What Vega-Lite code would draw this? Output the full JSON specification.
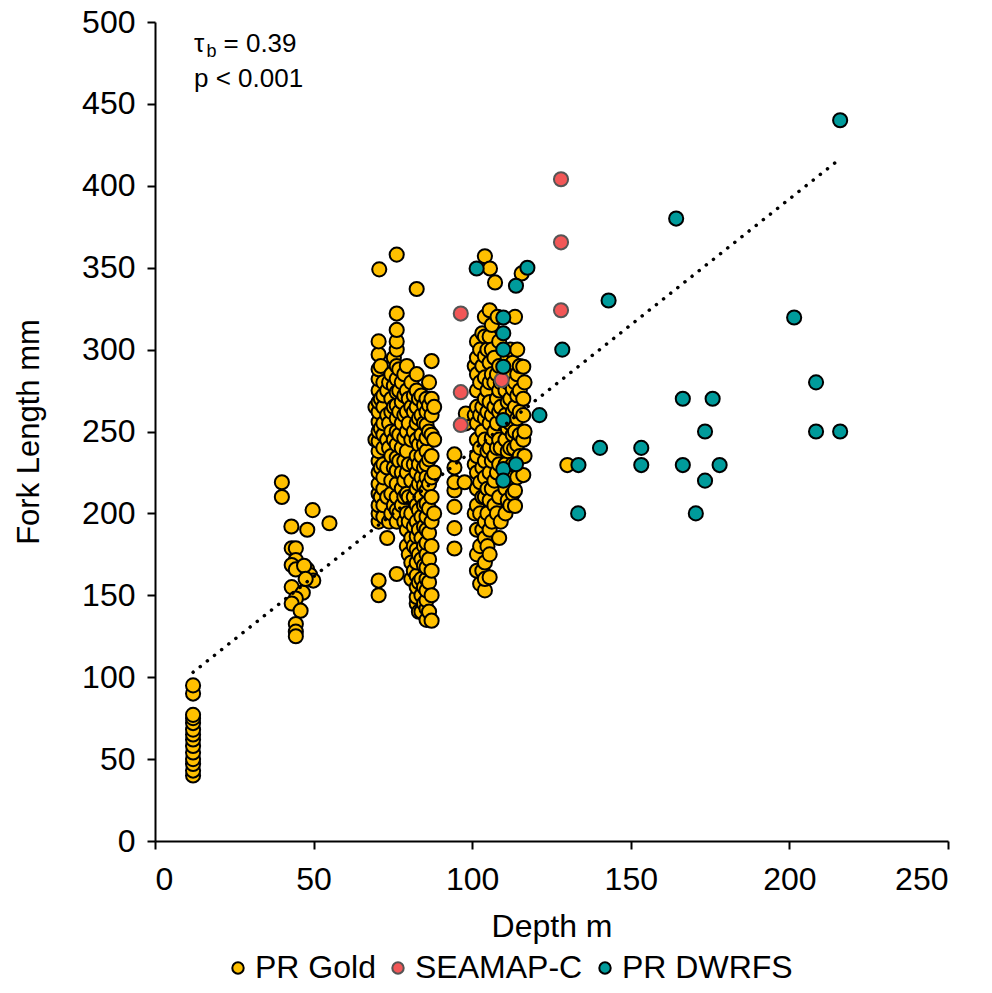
{
  "$schema": "https://vega.github.io/schema/vega-lite/v6.json",
  "autosize": "none",
  "width": 793,
  "height": 819,
  "padding": {"left": 155, "top": 22, "right": 44, "bottom": 152},
  "background": "white",
  "config": {
    "font": "Liberation Sans",
    "view": {"stroke": null},
    "axis": {"grid": false, "domainColor": "black", "domainWidth": 2, "tickColor": "black", "tickWidth": 2, "labelColor": "black", "titleColor": "black", "labelFont": "Liberation Sans", "titleFont": "Liberation Sans", "titleFontWeight": "normal"}
  },
  "datasets": {
    "pts": [
      {"s":"PR Gold","d":12,"f":40},{"s":"PR Gold","d":12,"f":43},{"s":"PR Gold","d":12,"f":47},{"s":"PR Gold","d":12,"f":50},{"s":"PR Gold","d":12,"f":54},{"s":"PR Gold","d":12,"f":58},{"s":"PR Gold","d":12,"f":62},{"s":"PR Gold","d":12,"f":65},{"s":"PR Gold","d":12,"f":68},{"s":"PR Gold","d":12,"f":72},{"s":"PR Gold","d":12,"f":75},{"s":"PR Gold","d":12,"f":77},{"s":"PR Gold","d":12,"f":90},{"s":"PR Gold","d":12,"f":95},
      {"s":"PR Gold","d":40,"f":210},{"s":"PR Gold","d":40,"f":219},
      {"s":"PR Gold","d":43,"f":192},{"s":"PR Gold","d":48,"f":190},{"s":"PR Gold","d":49.7,"f":202},{"s":"PR Gold","d":55,"f":194},{"s":"PR Gold","d":43.1,"f":178.7},{"s":"PR Gold","d":44.4,"f":178.7},{"s":"PR Gold","d":44.4,"f":171.5},{"s":"PR Gold","d":43.1,"f":168.5},{"s":"PR Gold","d":44.4,"f":165.8},{"s":"PR Gold","d":48,"f":165.8},{"s":"PR Gold","d":48.9,"f":162.4},{"s":"PR Gold","d":49.9,"f":159},{"s":"PR Gold","d":43.1,"f":155},{"s":"PR Gold","d":46.6,"f":151.6},{"s":"PR Gold","d":44.4,"f":148},{"s":"PR Gold","d":43.1,"f":145},{"s":"PR Gold","d":45.9,"f":140.6},{"s":"PR Gold","d":44.4,"f":132.5},{"s":"PR Gold","d":44.4,"f":127.8},{"s":"PR Gold","d":44.4,"f":125},{"s":"PR Gold","d":47,"f":168},{"s":"PR Gold","d":47.5,"f":160},
      {"s":"PR Gold","d":69.5,"f":245},{"s":"PR Gold","d":69.5,"f":265},
      {"s":"PR Gold","d":70.5,"f":150},{"s":"PR Gold","d":70.5,"f":159},{"s":"PR Gold","d":70.5,"f":195},{"s":"PR Gold","d":70.5,"f":200},{"s":"PR Gold","d":70.5,"f":205},{"s":"PR Gold","d":70.5,"f":212},{"s":"PR Gold","d":70.5,"f":218},{"s":"PR Gold","d":70.5,"f":225},{"s":"PR Gold","d":70.5,"f":232},{"s":"PR Gold","d":70.5,"f":238},{"s":"PR Gold","d":70.5,"f":244},{"s":"PR Gold","d":70.5,"f":250},{"s":"PR Gold","d":70.5,"f":256},{"s":"PR Gold","d":70.5,"f":262},{"s":"PR Gold","d":70.5,"f":268},{"s":"PR Gold","d":70.5,"f":275},{"s":"PR Gold","d":70.5,"f":282},{"s":"PR Gold","d":70.5,"f":288},{"s":"PR Gold","d":70.5,"f":297},{"s":"PR Gold","d":70.5,"f":305},{"s":"PR Gold","d":70.7,"f":349},
      {"s":"PR Gold","d":71.2,"f":210},{"s":"PR Gold","d":71.2,"f":228},{"s":"PR Gold","d":71.2,"f":252},{"s":"PR Gold","d":71.2,"f":270},{"s":"PR Gold","d":71.2,"f":290},
      {"s":"PR Gold","d":72,"f":198},{"s":"PR Gold","d":72,"f":205},{"s":"PR Gold","d":72,"f":215},{"s":"PR Gold","d":72,"f":222},{"s":"PR Gold","d":72,"f":230},{"s":"PR Gold","d":72,"f":240},{"s":"PR Gold","d":72,"f":248},{"s":"PR Gold","d":72,"f":255},{"s":"PR Gold","d":72,"f":265},{"s":"PR Gold","d":72,"f":272},{"s":"PR Gold","d":72,"f":280},
      {"s":"PR Gold","d":73.2,"f":185},{"s":"PR Gold","d":73.2,"f":210},{"s":"PR Gold","d":73.2,"f":228},{"s":"PR Gold","d":73.2,"f":245},{"s":"PR Gold","d":73.2,"f":260},{"s":"PR Gold","d":73.2,"f":275},
      {"s":"PR Gold","d":73.8,"f":195},{"s":"PR Gold","d":73.8,"f":240},{"s":"PR Gold","d":73.8,"f":255},{"s":"PR Gold","d":73.8,"f":280},
      {"s":"PR Gold","d":74.5,"f":200},{"s":"PR Gold","d":74.5,"f":212},{"s":"PR Gold","d":74.5,"f":220},{"s":"PR Gold","d":74.5,"f":235},{"s":"PR Gold","d":74.5,"f":250},{"s":"PR Gold","d":74.5,"f":262},{"s":"PR Gold","d":74.5,"f":270},{"s":"PR Gold","d":74.5,"f":285},
      {"s":"PR Gold","d":75.3,"f":205},{"s":"PR Gold","d":75.3,"f":228},{"s":"PR Gold","d":75.3,"f":245},{"s":"PR Gold","d":75.3,"f":265},{"s":"PR Gold","d":75.3,"f":278},{"s":"PR Gold","d":75.3,"f":295},
      {"s":"PR Gold","d":76.2,"f":163},{"s":"PR Gold","d":76.2,"f":195},{"s":"PR Gold","d":76.2,"f":202},{"s":"PR Gold","d":76.2,"f":210},{"s":"PR Gold","d":76.2,"f":218},{"s":"PR Gold","d":76.2,"f":226},{"s":"PR Gold","d":76.2,"f":234},{"s":"PR Gold","d":76.2,"f":242},{"s":"PR Gold","d":76.2,"f":250},{"s":"PR Gold","d":76.2,"f":258},{"s":"PR Gold","d":76.2,"f":266},{"s":"PR Gold","d":76.2,"f":274},{"s":"PR Gold","d":76.2,"f":282},{"s":"PR Gold","d":76.2,"f":290},{"s":"PR Gold","d":76.2,"f":300},{"s":"PR Gold","d":76.2,"f":305},{"s":"PR Gold","d":76.2,"f":312},{"s":"PR Gold","d":76.2,"f":322},{"s":"PR Gold","d":76.2,"f":358},
      {"s":"PR Gold","d":77,"f":200},{"s":"PR Gold","d":77,"f":232},{"s":"PR Gold","d":77,"f":248},{"s":"PR Gold","d":77,"f":262},{"s":"PR Gold","d":77,"f":275},{"s":"PR Gold","d":77,"f":288},
      {"s":"PR Gold","d":77.8,"f":205},{"s":"PR Gold","d":77.8,"f":215},{"s":"PR Gold","d":77.8,"f":225},{"s":"PR Gold","d":77.8,"f":240},{"s":"PR Gold","d":77.8,"f":255},{"s":"PR Gold","d":77.8,"f":268},{"s":"PR Gold","d":77.8,"f":280},
      {"s":"PR Gold","d":78.6,"f":195},{"s":"PR Gold","d":78.6,"f":210},{"s":"PR Gold","d":78.6,"f":220},{"s":"PR Gold","d":78.6,"f":232},{"s":"PR Gold","d":78.6,"f":246},{"s":"PR Gold","d":78.6,"f":260},{"s":"PR Gold","d":78.6,"f":272},{"s":"PR Gold","d":78.6,"f":285},
      {"s":"PR Gold","d":79.4,"f":180},{"s":"PR Gold","d":79.4,"f":190},{"s":"PR Gold","d":79.4,"f":200},{"s":"PR Gold","d":79.4,"f":212},{"s":"PR Gold","d":79.4,"f":225},{"s":"PR Gold","d":79.4,"f":238},{"s":"PR Gold","d":79.4,"f":250},{"s":"PR Gold","d":79.4,"f":262},{"s":"PR Gold","d":79.4,"f":275},{"s":"PR Gold","d":79.4,"f":290},
      {"s":"PR Gold","d":80,"f":175},{"s":"PR Gold","d":80,"f":195},{"s":"PR Gold","d":80,"f":210},{"s":"PR Gold","d":80,"f":230},{"s":"PR Gold","d":80,"f":255},{"s":"PR Gold","d":80,"f":270},
      {"s":"PR Gold","d":80.8,"f":160},{"s":"PR Gold","d":80.8,"f":170},{"s":"PR Gold","d":80.8,"f":185},{"s":"PR Gold","d":80.8,"f":200},{"s":"PR Gold","d":80.8,"f":220},{"s":"PR Gold","d":80.8,"f":245},{"s":"PR Gold","d":80.8,"f":265},{"s":"PR Gold","d":80.8,"f":280},
      {"s":"PR Gold","d":81.6,"f":165},{"s":"PR Gold","d":81.6,"f":180},{"s":"PR Gold","d":81.6,"f":192},{"s":"PR Gold","d":81.6,"f":210},{"s":"PR Gold","d":81.6,"f":230},{"s":"PR Gold","d":81.6,"f":250},{"s":"PR Gold","d":81.6,"f":262},{"s":"PR Gold","d":81.6,"f":272},
      {"s":"PR Gold","d":82.5,"f":145},{"s":"PR Gold","d":82.5,"f":149},{"s":"PR Gold","d":82.5,"f":155},{"s":"PR Gold","d":82.5,"f":162},{"s":"PR Gold","d":82.5,"f":170},{"s":"PR Gold","d":82.5,"f":178},{"s":"PR Gold","d":82.5,"f":186},{"s":"PR Gold","d":82.5,"f":195},{"s":"PR Gold","d":82.5,"f":205},{"s":"PR Gold","d":82.5,"f":215},{"s":"PR Gold","d":82.5,"f":225},{"s":"PR Gold","d":82.5,"f":235},{"s":"PR Gold","d":82.5,"f":245},{"s":"PR Gold","d":82.5,"f":255},{"s":"PR Gold","d":82.5,"f":265},{"s":"PR Gold","d":82.5,"f":275},{"s":"PR Gold","d":82.5,"f":285},{"s":"PR Gold","d":82.5,"f":337},
      {"s":"PR Gold","d":83.2,"f":140},{"s":"PR Gold","d":83.2,"f":158},{"s":"PR Gold","d":83.2,"f":175},{"s":"PR Gold","d":83.2,"f":190},{"s":"PR Gold","d":83.2,"f":202},{"s":"PR Gold","d":83.2,"f":218},{"s":"PR Gold","d":83.2,"f":230},{"s":"PR Gold","d":83.2,"f":242},{"s":"PR Gold","d":83.2,"f":258},{"s":"PR Gold","d":83.2,"f":270},
      {"s":"PR Gold","d":84,"f":140},{"s":"PR Gold","d":84,"f":150},{"s":"PR Gold","d":84,"f":160},{"s":"PR Gold","d":84,"f":172},{"s":"PR Gold","d":84,"f":185},{"s":"PR Gold","d":84,"f":198},{"s":"PR Gold","d":84,"f":210},{"s":"PR Gold","d":84,"f":222},{"s":"PR Gold","d":84,"f":235},{"s":"PR Gold","d":84,"f":248},{"s":"PR Gold","d":84,"f":260},{"s":"PR Gold","d":84,"f":272},
      {"s":"PR Gold","d":84.8,"f":145},{"s":"PR Gold","d":84.8,"f":155},{"s":"PR Gold","d":84.8,"f":168},{"s":"PR Gold","d":84.8,"f":180},{"s":"PR Gold","d":84.8,"f":192},{"s":"PR Gold","d":84.8,"f":205},{"s":"PR Gold","d":84.8,"f":217},{"s":"PR Gold","d":84.8,"f":228},{"s":"PR Gold","d":84.8,"f":242},{"s":"PR Gold","d":84.8,"f":255},{"s":"PR Gold","d":84.8,"f":266},
      {"s":"PR Gold","d":85.6,"f":135},{"s":"PR Gold","d":85.6,"f":142},{"s":"PR Gold","d":85.6,"f":147},{"s":"PR Gold","d":85.6,"f":153},{"s":"PR Gold","d":85.6,"f":160},{"s":"PR Gold","d":85.6,"f":167},{"s":"PR Gold","d":85.6,"f":175},{"s":"PR Gold","d":85.6,"f":182},{"s":"PR Gold","d":85.6,"f":190},{"s":"PR Gold","d":85.6,"f":198},{"s":"PR Gold","d":85.6,"f":206},{"s":"PR Gold","d":85.6,"f":214},{"s":"PR Gold","d":85.6,"f":222},{"s":"PR Gold","d":85.6,"f":230},{"s":"PR Gold","d":85.6,"f":238},{"s":"PR Gold","d":85.6,"f":246},{"s":"PR Gold","d":85.6,"f":254},{"s":"PR Gold","d":85.6,"f":262},{"s":"PR Gold","d":85.6,"f":270},
      {"s":"PR Gold","d":86.4,"f":140},{"s":"PR Gold","d":86.4,"f":158},{"s":"PR Gold","d":86.4,"f":172},{"s":"PR Gold","d":86.4,"f":188},{"s":"PR Gold","d":86.4,"f":203},{"s":"PR Gold","d":86.4,"f":218},{"s":"PR Gold","d":86.4,"f":233},{"s":"PR Gold","d":86.4,"f":250},{"s":"PR Gold","d":86.4,"f":266},{"s":"PR Gold","d":86.4,"f":280},
      {"s":"PR Gold","d":87.2,"f":134.5},{"s":"PR Gold","d":87.2,"f":150},{"s":"PR Gold","d":87.2,"f":165},{"s":"PR Gold","d":87.2,"f":180},{"s":"PR Gold","d":87.2,"f":195},{"s":"PR Gold","d":87.2,"f":210},{"s":"PR Gold","d":87.2,"f":222},{"s":"PR Gold","d":87.2,"f":235},{"s":"PR Gold","d":87.2,"f":248},{"s":"PR Gold","d":87.2,"f":260},{"s":"PR Gold","d":87.2,"f":270},{"s":"PR Gold","d":87.2,"f":293},
      {"s":"PR Gold","d":88,"f":200},{"s":"PR Gold","d":88,"f":225},{"s":"PR Gold","d":88,"f":245},{"s":"PR Gold","d":88,"f":265},
      {"s":"PR Gold","d":94.4,"f":178.6},{"s":"PR Gold","d":94.4,"f":191},{"s":"PR Gold","d":94.4,"f":204},{"s":"PR Gold","d":94.4,"f":214},{"s":"PR Gold","d":94.4,"f":219},{"s":"PR Gold","d":94.4,"f":228},{"s":"PR Gold","d":94.4,"f":236},{"s":"PR Gold","d":97.6,"f":219},{"s":"PR Gold","d":98,"f":255},{"s":"PR Gold","d":98,"f":261},
      {"s":"PR Gold","d":100.8,"f":200},{"s":"PR Gold","d":100.8,"f":230},{"s":"PR Gold","d":100.8,"f":260},{"s":"PR Gold","d":100.8,"f":290},
      {"s":"PR Gold","d":101.5,"f":165},{"s":"PR Gold","d":101.5,"f":175},{"s":"PR Gold","d":101.5,"f":190},{"s":"PR Gold","d":101.5,"f":205},{"s":"PR Gold","d":101.5,"f":215},{"s":"PR Gold","d":101.5,"f":225},{"s":"PR Gold","d":101.5,"f":235},{"s":"PR Gold","d":101.5,"f":245},{"s":"PR Gold","d":101.5,"f":255},{"s":"PR Gold","d":101.5,"f":265},{"s":"PR Gold","d":101.5,"f":275},{"s":"PR Gold","d":101.5,"f":285},{"s":"PR Gold","d":101.5,"f":295},{"s":"PR Gold","d":101.5,"f":305},
      {"s":"PR Gold","d":102.5,"f":157},{"s":"PR Gold","d":102.5,"f":180},{"s":"PR Gold","d":102.5,"f":200},{"s":"PR Gold","d":102.5,"f":219},{"s":"PR Gold","d":102.5,"f":240},{"s":"PR Gold","d":102.5,"f":260},{"s":"PR Gold","d":102.5,"f":280},{"s":"PR Gold","d":102.5,"f":300},
      {"s":"PR Gold","d":103.2,"f":165},{"s":"PR Gold","d":103.2,"f":190},{"s":"PR Gold","d":103.2,"f":210},{"s":"PR Gold","d":103.2,"f":228},{"s":"PR Gold","d":103.2,"f":250},{"s":"PR Gold","d":103.2,"f":265},{"s":"PR Gold","d":103.2,"f":290},{"s":"PR Gold","d":103.2,"f":310},
      {"s":"PR Gold","d":104,"f":153},{"s":"PR Gold","d":104,"f":160},{"s":"PR Gold","d":104,"f":170},{"s":"PR Gold","d":104,"f":185},{"s":"PR Gold","d":104,"f":195},{"s":"PR Gold","d":104,"f":210},{"s":"PR Gold","d":104,"f":222},{"s":"PR Gold","d":104,"f":232},{"s":"PR Gold","d":104,"f":245},{"s":"PR Gold","d":104,"f":258},{"s":"PR Gold","d":104,"f":270},{"s":"PR Gold","d":104,"f":283},{"s":"PR Gold","d":104,"f":296},{"s":"PR Gold","d":104,"f":308},{"s":"PR Gold","d":104,"f":320},{"s":"PR Gold","d":104,"f":357},
      {"s":"PR Gold","d":104.8,"f":180},{"s":"PR Gold","d":104.8,"f":200},{"s":"PR Gold","d":104.8,"f":215},{"s":"PR Gold","d":104.8,"f":238},{"s":"PR Gold","d":104.8,"f":262},{"s":"PR Gold","d":104.8,"f":275},{"s":"PR Gold","d":104.8,"f":300},
      {"s":"PR Gold","d":105.5,"f":161},{"s":"PR Gold","d":105.5,"f":175},{"s":"PR Gold","d":105.5,"f":190},{"s":"PR Gold","d":105.5,"f":208},{"s":"PR Gold","d":105.5,"f":225},{"s":"PR Gold","d":105.5,"f":240},{"s":"PR Gold","d":105.5,"f":255},{"s":"PR Gold","d":105.5,"f":268},{"s":"PR Gold","d":105.5,"f":280},{"s":"PR Gold","d":105.5,"f":292},{"s":"PR Gold","d":105.5,"f":308},{"s":"PR Gold","d":105.5,"f":324},{"s":"PR Gold","d":105.6,"f":349.5},
      {"s":"PR Gold","d":106.2,"f":195},{"s":"PR Gold","d":106.2,"f":215},{"s":"PR Gold","d":106.2,"f":232},{"s":"PR Gold","d":106.2,"f":246},{"s":"PR Gold","d":106.2,"f":260},{"s":"PR Gold","d":106.2,"f":285},{"s":"PR Gold","d":106.2,"f":300},{"s":"PR Gold","d":106.2,"f":315},
      {"s":"PR Gold","d":107,"f":205},{"s":"PR Gold","d":107,"f":220},{"s":"PR Gold","d":107,"f":235},{"s":"PR Gold","d":107,"f":250},{"s":"PR Gold","d":107,"f":265},{"s":"PR Gold","d":107,"f":280},{"s":"PR Gold","d":107,"f":295},{"s":"PR Gold","d":107.2,"f":341},
      {"s":"PR Gold","d":107.8,"f":200},{"s":"PR Gold","d":107.8,"f":225},{"s":"PR Gold","d":107.8,"f":240},{"s":"PR Gold","d":107.8,"f":255},{"s":"PR Gold","d":107.8,"f":270},{"s":"PR Gold","d":107.8,"f":285},
      {"s":"PR Gold","d":108.5,"f":185},{"s":"PR Gold","d":108.5,"f":210},{"s":"PR Gold","d":108.5,"f":230},{"s":"PR Gold","d":108.5,"f":245},{"s":"PR Gold","d":108.5,"f":262},{"s":"PR Gold","d":108.5,"f":275},{"s":"PR Gold","d":108.5,"f":290},{"s":"PR Gold","d":108.5,"f":305},{"s":"PR Gold","d":108,"f":320},
      {"s":"PR Gold","d":109,"f":195},{"s":"PR Gold","d":109,"f":240},{"s":"PR Gold","d":109,"f":265},{"s":"PR Gold","d":109,"f":280},
      {"s":"PR Gold","d":110.5,"f":200},{"s":"PR Gold","d":110.5,"f":215},{"s":"PR Gold","d":110.5,"f":230},{"s":"PR Gold","d":110.5,"f":245},{"s":"PR Gold","d":110.5,"f":260},{"s":"PR Gold","d":110.5,"f":275},{"s":"PR Gold","d":110.5,"f":290},
      {"s":"PR Gold","d":111.2,"f":208},{"s":"PR Gold","d":111.2,"f":225},{"s":"PR Gold","d":111.2,"f":238},{"s":"PR Gold","d":111.2,"f":252},{"s":"PR Gold","d":111.2,"f":268},{"s":"PR Gold","d":111.2,"f":280},{"s":"PR Gold","d":111.2,"f":295},
      {"s":"PR Gold","d":112,"f":205},{"s":"PR Gold","d":112,"f":222},{"s":"PR Gold","d":112,"f":240},{"s":"PR Gold","d":112,"f":255},{"s":"PR Gold","d":112,"f":270},{"s":"PR Gold","d":112,"f":285},{"s":"PR Gold","d":112,"f":300},{"s":"PR Gold","d":113.5,"f":320},
      {"s":"PR Gold","d":112.8,"f":212},{"s":"PR Gold","d":112.8,"f":230},{"s":"PR Gold","d":112.8,"f":248},{"s":"PR Gold","d":112.8,"f":262},{"s":"PR Gold","d":112.8,"f":276},{"s":"PR Gold","d":112.8,"f":292},
      {"s":"PR Gold","d":113.5,"f":204.5},{"s":"PR Gold","d":113.5,"f":214},{"s":"PR Gold","d":113.2,"f":239.7},{"s":"PR Gold","d":113.5,"f":250},{"s":"PR Gold","d":113.5,"f":265},{"s":"PR Gold","d":113.5,"f":280},
      {"s":"PR Gold","d":114.2,"f":222},{"s":"PR Gold","d":114.2,"f":242},{"s":"PR Gold","d":114.2,"f":258},{"s":"PR Gold","d":114.2,"f":272},{"s":"PR Gold","d":114.2,"f":285},{"s":"PR Gold","d":114.2,"f":300},
      {"s":"PR Gold","d":115,"f":235},{"s":"PR Gold","d":115,"f":248},{"s":"PR Gold","d":115,"f":262},{"s":"PR Gold","d":115,"f":275},{"s":"PR Gold","d":115,"f":290},{"s":"PR Gold","d":115.6,"f":346.5},
      {"s":"PR Gold","d":116.1,"f":223.4},{"s":"PR Gold","d":116.1,"f":245},{"s":"PR Gold","d":116.1,"f":260},{"s":"PR Gold","d":116.1,"f":270},{"s":"PR Gold","d":116.1,"f":289.5},
      {"s":"PR Gold","d":116.5,"f":235},{"s":"PR Gold","d":116.5,"f":250},{"s":"PR Gold","d":116.5,"f":280},
      {"s":"PR Gold","d":130,"f":229.5},
      {"s":"SEAMAP-C","d":96.4,"f":322},{"s":"SEAMAP-C","d":96.4,"f":274},{"s":"SEAMAP-C","d":96.4,"f":254},{"s":"SEAMAP-C","d":109.3,"f":281.4},{"s":"SEAMAP-C","d":128,"f":404},{"s":"SEAMAP-C","d":128,"f":365.5},{"s":"SEAMAP-C","d":128,"f":324},
      {"s":"PR DWRFS","d":101.4,"f":349.5},{"s":"PR DWRFS","d":113.8,"f":339},{"s":"PR DWRFS","d":117.4,"f":350},{"s":"PR DWRFS","d":109.8,"f":319.6},{"s":"PR DWRFS","d":109.8,"f":310},{"s":"PR DWRFS","d":109.8,"f":300},{"s":"PR DWRFS","d":109.8,"f":289.5},{"s":"PR DWRFS","d":109.8,"f":257},{"s":"PR DWRFS","d":109.8,"f":227},{"s":"PR DWRFS","d":113.8,"f":230},{"s":"PR DWRFS","d":109.8,"f":220},{"s":"PR DWRFS","d":121.2,"f":260},{"s":"PR DWRFS","d":128.4,"f":300},{"s":"PR DWRFS","d":133.5,"f":229.5},{"s":"PR DWRFS","d":133.4,"f":200},{"s":"PR DWRFS","d":140.3,"f":240},{"s":"PR DWRFS","d":143,"f":330},{"s":"PR DWRFS","d":153.3,"f":240},{"s":"PR DWRFS","d":153.3,"f":229.5},{"s":"PR DWRFS","d":164.3,"f":380},{"s":"PR DWRFS","d":166.4,"f":270},{"s":"PR DWRFS","d":166.4,"f":229.5},{"s":"PR DWRFS","d":170.5,"f":200},{"s":"PR DWRFS","d":173.4,"f":250},{"s":"PR DWRFS","d":173.4,"f":220},{"s":"PR DWRFS","d":175.8,"f":270},{"s":"PR DWRFS","d":178,"f":229.5},{"s":"PR DWRFS","d":201.5,"f":319.6},{"s":"PR DWRFS","d":208.4,"f":280},{"s":"PR DWRFS","d":208.4,"f":250},{"s":"PR DWRFS","d":216,"f":250},{"s":"PR DWRFS","d":216,"f":440}
    ],
    "trend": [{"d":12,"f":103},{"d":215,"f":415}],
    "tau": [{"d":12.3,"f":486.5,"t":"τ"}],
    "sub": [{"d":16.2,"f":481.5,"t":"b"}],
    "eq": [{"d":21.6,"f":486.5,"t":"= 0.39"}],
    "pv": [{"d":12.3,"f":465.5,"t":"p < 0.001"}]
  },
  "layer": [
    {
      "data": {"name": "pts"},
      "mark": {"type": "point", "shape": "circle", "filled": true, "opacity": 1, "size": 200, "strokeWidth": 2},
      "encoding": {
        "x": {"field": "d", "type": "quantitative", "scale": {"domain": [0, 250], "nice": false}, "axis": {"title": "Depth m", "values": [0,50,100,150,200,250], "labelFontSize": 32, "titleFontSize": 32, "tickSize": 8, "labelPadding": 15, "titlePadding": 16}},
        "y": {"field": "f", "type": "quantitative", "scale": {"domain": [0, 500], "nice": false}, "axis": {"title": "Fork Length mm", "values": [0,50,100,150,200,250,300,350,400,450,500], "labelFontSize": 32, "titleFontSize": 31, "tickSize": 8, "labelPadding": 12, "titlePadding": 36}},
        "fill": {"field": "s", "type": "nominal", "scale": {"domain": ["PR Gold", "SEAMAP-C", "PR DWRFS"], "range": ["#FFC000", "#F25757", "#009B9B"]}, "legend": {"title": null, "orient": "none", "direction": "horizontal", "legendX": 67, "legendY": 930, "labelFontSize": 32, "labelLimit": 0, "labelFont": "Liberation Sans", "labelColor": "black", "symbolSize": 130, "symbolStrokeWidth": 2, "labelOffset": 1, "columnPadding": 6}},
        "stroke": {"field": "s", "type": "nominal", "scale": {"domain": ["PR Gold", "SEAMAP-C", "PR DWRFS"], "range": ["#000000", "#555555", "#000000"]}, "legend": null}
      }
    },
    {
      "data": {"name": "trend"},
      "mark": {"type": "line", "color": "black", "strokeWidth": 3.5, "strokeDash": [0.1, 9], "strokeCap": "round"},
      "encoding": {"x": {"field": "d", "type": "quantitative"}, "y": {"field": "f", "type": "quantitative"}}
    },
    {
      "data": {"name": "tau"},
      "mark": {"type": "text", "align": "left", "baseline": "middle", "fontSize": 26, "font": "Liberation Sans", "color": "black"},
      "encoding": {"x": {"field": "d", "type": "quantitative"}, "y": {"field": "f", "type": "quantitative"}, "text": {"field": "t"}}
    },
    {
      "data": {"name": "sub"},
      "mark": {"type": "text", "align": "left", "baseline": "middle", "fontSize": 18, "font": "Liberation Sans", "color": "black"},
      "encoding": {"x": {"field": "d", "type": "quantitative"}, "y": {"field": "f", "type": "quantitative"}, "text": {"field": "t"}}
    },
    {
      "data": {"name": "eq"},
      "mark": {"type": "text", "align": "left", "baseline": "middle", "fontSize": 26, "font": "Liberation Sans", "color": "black"},
      "encoding": {"x": {"field": "d", "type": "quantitative"}, "y": {"field": "f", "type": "quantitative"}, "text": {"field": "t"}}
    },
    {
      "data": {"name": "pv"},
      "mark": {"type": "text", "align": "left", "baseline": "middle", "fontSize": 26, "font": "Liberation Sans", "color": "black"},
      "encoding": {"x": {"field": "d", "type": "quantitative"}, "y": {"field": "f", "type": "quantitative"}, "text": {"field": "t"}}
    }
  ]
}
